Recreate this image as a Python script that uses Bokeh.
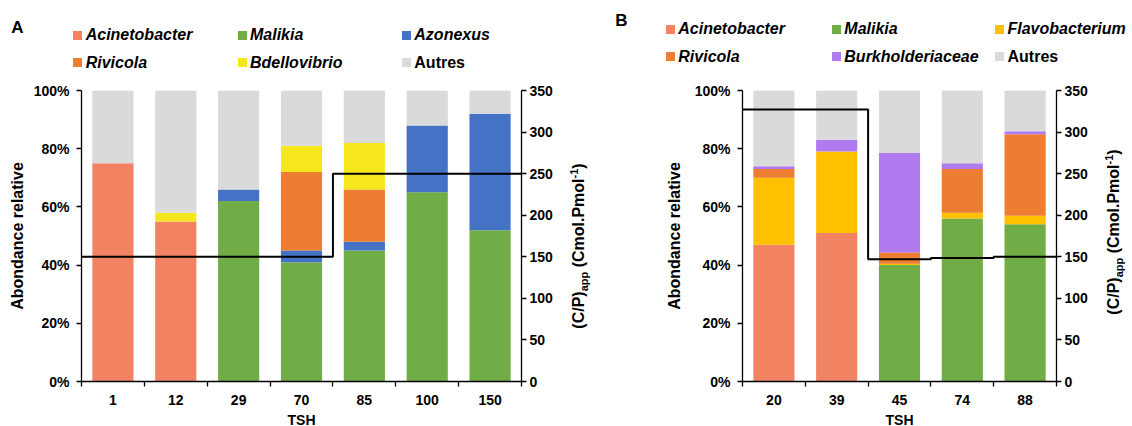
from bokeh.plotting import figure
from bokeh.models import Range1d, LinearAxis, FixedTicker, ColumnDataSource, Div
from bokeh.layouts import row, column
from bokeh.embed import file_html
from bokeh.resources import INLINE

FONT = "Liberation Sans"

# ---------------- Data : panel A ----------------
tsh_A = ["1", "12", "29", "70", "85", "100", "150"]
names_A = ["Acinetobacter", "Malikia", "Azonexus", "Rivicola", "Bdellovibrio", "Autres"]
italic_A = [True, True, True, True, True, False]
acineto_A = [75, 55, 0, 0, 0, 0, 0]
malikia_A = [0, 0, 62, 41, 45, 65, 52]
azonexus_A = [0, 0, 4, 4, 3, 23, 40]
rivicola_A = [0, 0, 0, 27, 18, 0, 0]
bdello_A = [0, 3, 0, 9, 16, 0, 0]
autres_A = [25, 42, 34, 19, 18, 12, 8]
cp_A = [150, 150, 150, 150, 250, 250, 250]

# ---------------- Data : panel B ----------------
tsh_B = ["20", "39", "45", "74", "88"]
names_B = ["Acinetobacter", "Malikia", "Flavobacterium", "Rivicola", "Burkholderiaceae", "Autres"]
italic_B = [True, True, True, True, True, False]
acineto_B = [47, 51, 0, 0, 0]
malikia_B = [0, 0, 40, 56, 54]
flavo_B = [23, 28, 0.5, 2, 3]
rivicola_B = [3, 0, 3.8, 15, 28]
burk_B = [1, 4, 34.2, 2, 1]
autres_B = [26, 17, 21.5, 25, 14]
cp_B = [327, 327, 147, 148.5, 150]

pct_ticks = [0, 20, 40, 60, 80, 100]
pct_labels = ["0%", "20%", "40%", "60%", "80%", "100%"]
cp_ticks = [0, 50, 100, 150, 200, 250, 300, 350]

colors_A = ["#F18262", "#70AD47", "#4472C4", "#ED7D31", "#F6E71D", "#DADADA"]
colors_B = ["#F18262", "#70AD47", "#FFC000", "#ED7D31", "#AF7BEF", "#DADADA"]

RIGHT_LABEL_HTML = "(C/P)<sub style='font-size:11px'>app</sub> (Cmol.Pmol<sup style='font-size:11px'>-1</sup>)"

HEAD_H = 72
TOP = 18
FRAME_H = 291
BOTTOM = 44
MAIN_H = TOP + FRAME_H + BOTTOM


def style_text(ax, tick_size, label_size):
    ax.major_label_text_font = FONT
    ax.major_label_text_font_style = "bold"
    ax.major_label_text_font_size = tick_size
    ax.major_label_text_color = "black"
    ax.axis_label_text_font = FONT
    ax.axis_label_text_font_style = "bold"
    ax.axis_label_text_font_size = label_size
    ax.axis_label_text_color = "black"
    ax.axis_line_color = "black"
    ax.axis_line_width = 1.3


def legend_html(names, italics, colors, letter, col_x, row_y, letter_xy):
    parts = []
    parts.append(
        f"<span style='position:absolute;left:{letter_xy[0]}px;top:{letter_xy[1]}px;"
        f"transform:translate(-50%,-50%);font-size:17px;font-weight:bold;'>{letter}</span>")
    for k, (nm, it, col) in enumerate(zip(names, italics, colors)):
        x = col_x[k % 3]
        y = row_y[k // 3]
        parts.append(
            f"<span style='position:absolute;left:{x}px;top:{y - 4.5}px;width:9px;height:9px;"
            f"background:{col};'></span>")
        style = "italic" if it else "normal"
        parts.append(
            f"<span style='position:absolute;left:{x + 12.5}px;top:{y - 10}px;line-height:20px;"
            f"font-size:16px;font-weight:bold;font-style:{style};white-space:nowrap;'>{nm}</span>")
    return "".join(parts)


def rotated_label(width, cx, cy):
    html = (f"<div style=\"position:relative;width:{width}px;height:{MAIN_H}px;"
            f"font-family:'{FONT}';color:black;\">"
            f"<span style='position:absolute;left:{cx}px;top:{cy}px;white-space:nowrap;"
            f"transform:translate(-50%,-50%) rotate(-90deg);font-size:16px;font-weight:bold;'>"
            f"{RIGHT_LABEL_HTML}</span></div>")
    return Div(text=html, width=width, height=MAIN_H, margin=0)


def make_panel(cats, series, colors, cp, frame_w, b_left, b_right, left_label_std):
    n = len(cats)
    p = figure(frame_width=frame_w, frame_height=FRAME_H,
               x_range=Range1d(0, n), y_range=Range1d(0, 100),
               output_backend="svg", toolbar_location=None,
               min_border_left=b_left, min_border_right=b_right,
               min_border_top=TOP, min_border_bottom=BOTTOM,
               outline_line_color=None, background_fill_color="white",
               border_fill_color="white", margin=0)
    p.xgrid.visible = False
    p.ygrid.visible = False
    p.extra_y_ranges = {"cp": Range1d(0, 350)}

    centers = [i + 0.5 for i in range(n)]
    data = {"x": centers}
    keys = []
    for k, s in enumerate(series):
        data[f"s{k}"] = s
        keys.append(f"s{k}")
    src = ColumnDataSource(data)
    p.vbar_stack(keys, x="x", width=0.655, fill_color=colors,
                 line_color=None, source=src)

    xs = [0] + centers + [n]
    ys = [cp[0]] + list(cp) + [cp[-1]]
    p.step(xs, ys, mode="center", y_range_name="cp",
           line_color="black", line_width=2)

    # bottom axis: labels at centers, ticks at category boundaries
    xa = p.xaxis[0]
    xa.ticker = FixedTicker(ticks=centers, minor_ticks=list(range(n + 1)))
    xa.major_label_overrides = {c: t for c, t in zip(centers, cats)}
    xa.major_tick_in = 0
    xa.major_tick_out = 0
    xa.minor_tick_in = 0
    xa.minor_tick_out = 5
    xa.minor_tick_line_color = "black"
    xa.minor_tick_line_width = 1.3
    xa.major_label_standoff = 8
    xa.axis_label = "TSH"
    xa.axis_label_standoff = 4
    style_text(xa, "14px", "14px")

    # left axis
    ya = p.yaxis[0]
    ya.ticker = FixedTicker(ticks=pct_ticks)
    ya.major_label_overrides = {t: l for t, l in zip(pct_ticks, pct_labels)}
    ya.major_tick_in = 0
    ya.major_tick_out = 5
    ya.major_tick_line_color = "black"
    ya.major_tick_line_width = 1.3
    ya.major_label_standoff = 7
    ya.axis_label = "Abondance relative"
    ya.axis_label_standoff = left_label_std
    style_text(ya, "14px", "16px")

    # right axis (its title is set beside the plot, reading upward)
    ra = LinearAxis(y_range_name="cp", ticker=FixedTicker(ticks=cp_ticks))
    ra.major_tick_in = 0
    ra.major_tick_out = 5
    ra.major_tick_line_color = "black"
    ra.major_tick_line_width = 1.3
    ra.minor_tick_line_color = None
    ra.major_label_standoff = 3
    style_text(ra, "14px", "16px")
    p.add_layout(ra, "right")
    return p


TOTAL_W = 1130

header_html = (
    f"<div style=\"position:relative;width:{TOTAL_W}px;height:{HEAD_H}px;"
    f"font-family:'{FONT}';color:black;\">"
    + legend_html(names_A, italic_A, colors_A, "A",
                  col_x=[73.2, 237.5, 401.8], row_y=[35, 62.7], letter_xy=(17.5, 27.5))
    + legend_html(names_B, italic_B, colors_B, "B",
                  col_x=[665.8, 831.8, 995], row_y=[29.3, 56.7], letter_xy=(621.5, 21))
    + "</div>")
header = Div(text=header_html, width=TOTAL_W, height=HEAD_H, margin=0)

pA = make_panel(tsh_A, [acineto_A, malikia_A, azonexus_A, rivicola_A, bdello_A, autres_A],
                colors_A, cp_A, frame_w=440, b_left=81, b_right=36, left_label_std=5)
pB = make_panel(tsh_B, [acineto_B, malikia_B, flavo_B, rivicola_B, burk_B, autres_B],
                colors_B, cp_B, frame_w=314, b_left=122, b_right=36, left_label_std=9)

# pA: 0..557, label A: 557..620, pB: 620..1092, label B: 1092..1130
labA = rotated_label(63, 23, 245.5 - HEAD_H)
labB = rotated_label(38, 23, 231.5 - HEAD_H)

layout = column(header, row(pA, labA, pB, labB, spacing=0), spacing=0)
open("out.html", "w").write(file_html(layout, INLINE))
